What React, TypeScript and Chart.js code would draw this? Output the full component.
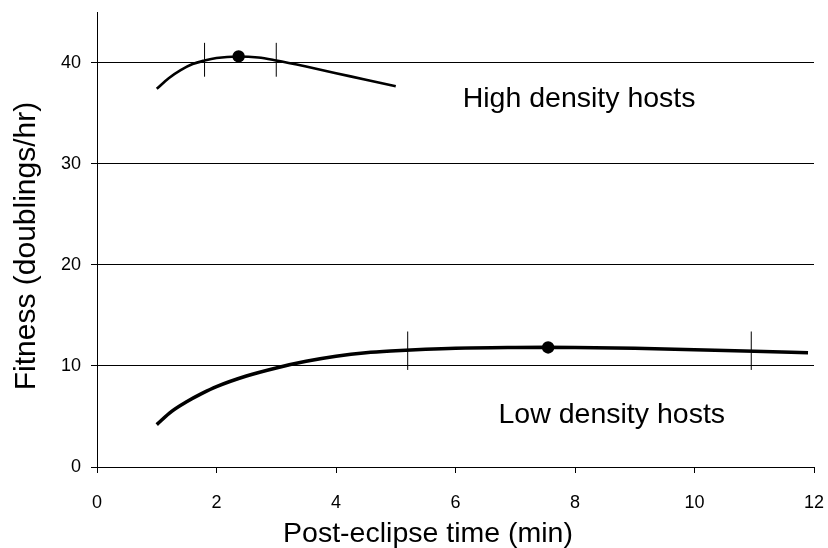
import React, { useEffect, useRef } from "react";
import { Chart, registerables } from "chart.js";

Chart.register(...registerables);

// ---- data ----
const highX = [1.0, 1.2, 1.4, 1.6, 1.8, 2.0, 2.35, 2.7, 3.0, 3.5, 4.0, 4.5, 5.0];
const highY = [37.4, 38.45, 39.25, 39.85, 40.2, 40.45, 40.6, 40.5, 40.2, 39.6, 38.95, 38.3, 37.65];

const lowX = [1.0, 1.25, 1.5, 1.75, 2.0, 2.5, 3.0, 3.5, 4.0, 4.5, 5.0, 5.5, 6.0, 7.0, 7.5, 8.0, 9.0, 10.0, 11.0, 11.9];
const lowY = [4.2, 5.5, 6.45, 7.25, 7.95, 9.0, 9.8, 10.45, 10.95, 11.3, 11.5, 11.65, 11.75, 11.82, 11.83, 11.82, 11.75, 11.6, 11.45, 11.3];

const highOptimum = { x: 2.37, y: 40.6 };
const lowOptimum = { x: 7.55, y: 11.82 };

const highMarkX = [1.8, 3.0];
const highMarkRange = [38.6, 41.95];
const lowMarkX = [5.2, 10.95];
const lowMarkRange = [9.6, 13.4];

const xTicks = [0, 2, 4, 6, 8, 10, 12];
const yTicks = [0, 10, 20, 30, 40];

const labels = [
  { text: "High density hosts", x: 6.12, y: 35.6 },
  { text: "Low density hosts", x: 6.72, y: 4.4 },
];

const xTitle = "Post-eclipse time (min)";
const yTitle = "Fitness (doublings/hr)";

const FONT = "'Liberation Sans', Arial, Helvetica, sans-serif";

const annotationPlugin = {
  id: "annotations",
  afterDatasetsDraw(chart: any) {
    const { ctx, scales } = chart;
    const xs = scales.x;
    const ys = scales.y;
    ctx.save();
    ctx.fillStyle = "#000";
    ctx.font = `28.5px ${FONT}`;
    ctx.textAlign = "left";
    ctx.textBaseline = "alphabetic";
    labels.forEach((l) => {
      ctx.fillText(l.text, xs.getPixelForValue(l.x), ys.getPixelForValue(l.y));
    });
    // axis titles
    ctx.textAlign = "center";
    ctx.font = `28.5px ${FONT}`;
    ctx.fillText(xTitle, 428, 542);
    ctx.translate(35, 246);
    ctx.rotate(-Math.PI / 2);
    ctx.font = `30px ${FONT}`;
    ctx.fillText(yTitle, 0, 0);
    ctx.restore();
  },
};

export default function App() {
  const ref = useRef<HTMLCanvasElement>(null);

  useEffect(() => {
    if (!ref.current) return;
    const markSets = [
      ...highMarkX.map((x) => highMarkRange.map((y) => ({ x, y }))),
      ...lowMarkX.map((x) => lowMarkRange.map((y) => ({ x, y }))),
    ];
    const chart = new Chart(ref.current, {
      type: "scatter",
      data: {
        datasets: [
          {
            data: highX.map((x, i) => ({ x, y: highY[i] })),
            showLine: true,
            borderColor: "#000",
            borderWidth: 2.6,
            pointRadius: 0,
            cubicInterpolationMode: "monotone",
          },
          {
            data: lowX.map((x, i) => ({ x, y: lowY[i] })),
            showLine: true,
            borderColor: "#000",
            borderWidth: 3.6,
            pointRadius: 0,
            cubicInterpolationMode: "monotone",
          },
          ...markSets.map((d) => ({
            data: d,
            showLine: true,
            borderColor: "#000",
            borderWidth: 1,
            pointRadius: 0,
          })),
          {
            data: [highOptimum, lowOptimum],
            showLine: false,
            pointRadius: 6.2,
            pointBackgroundColor: "#000",
            pointBorderColor: "#000",
            borderWidth: 0,
          },
        ] as any,
      },
      options: {
        animation: false,
        responsive: false,
        devicePixelRatio: 1,
        layout: { autoPadding: false, padding: { top: 12, right: 14, left: 0, bottom: 0 } },
        plugins: {
          legend: { display: false },
          tooltip: { enabled: false },
        },
        scales: {
          x: {
            type: "linear",
            min: 0,
            max: 12,
            afterFit: (s: any) => {
              s.height = 81;
              s.paddingLeft = 0;
              s.paddingRight = 0;
            },
            afterBuildTicks: (s: any) => {
              s.ticks = xTicks.map((v) => ({ value: v }));
            },
            grid: {
              drawOnChartArea: false,
              drawTicks: true,
              tickLength: 6,
              tickColor: "#000",
            },
            border: { display: true, color: "#000", width: 1 },
            ticks: {
              color: "#000",
              font: { family: FONT, size: 18 },
              padding: 19,
              maxRotation: 0,
              autoSkip: false,
            },
          },
          y: {
            type: "linear",
            min: 0,
            max: 45,
            afterFit: (s: any) => {
              s.width = 97;
              s.paddingTop = 0;
              s.paddingBottom = 0;
            },
            afterBuildTicks: (s: any) => {
              s.ticks = yTicks.map((v) => ({ value: v }));
            },
            grid: {
              color: "#000",
              lineWidth: 1,
              drawTicks: true,
              tickLength: 6,
              tickColor: "#000",
            },
            border: { display: true, color: "#000", width: 1 },
            ticks: {
              color: "#000",
              font: { family: FONT, size: 18 },
              padding: 10,
              autoSkip: false,
            },
          },
        },
      } as any,
      plugins: [annotationPlugin],
    });
    return () => chart.destroy();
  }, []);

  return (
    <div style={{ position: "fixed", left: 0, top: 0, width: 828, height: 548, background: "#fff" }}>
      <canvas ref={ref} width={828} height={548} style={{ width: 828, height: 548 }} />
    </div>
  );
}
